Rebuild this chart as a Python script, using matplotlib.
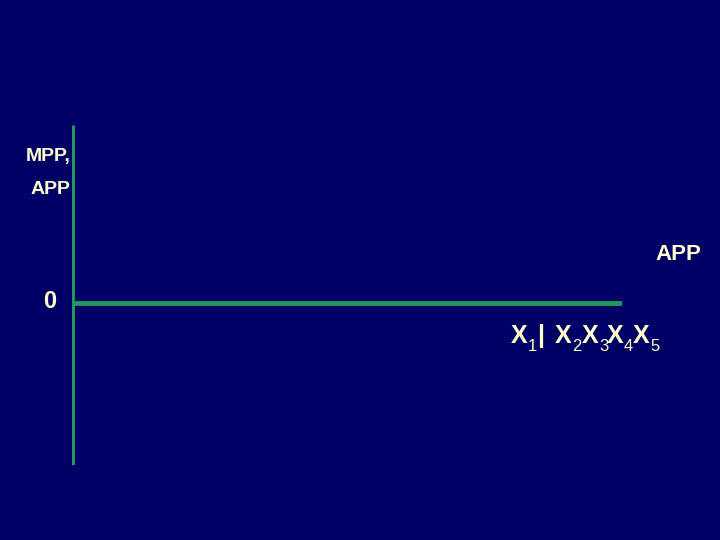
import matplotlib
matplotlib.use("Agg")
import matplotlib.pyplot as plt

# chart content
y_label_lines = ["MPP,", "APP"]
curve_label = "APP"
origin_label = "0"
x_names = ["X", "X", "X", "X", "X"]
x_subs = ["1", "2", "3", "4", "5"]

bg = "#000066"
green = "#1f9a5c"
txt = "#ffffcc"
font = "Liberation Sans"

fig = plt.figure(figsize=(7.2, 5.4), dpi=100)
fig.patch.set_facecolor(bg)

# overlay in pixel coordinates (origin top-left)
ov = fig.add_axes([0, 0, 1, 1])
ov.set_xlim(0, 720)
ov.set_ylim(540, 0)
ov.axis("off")
ov.patch.set_alpha(0)

# axes: vertical line from y=125 to 465, horizontal at y=303 from x=72 to 622
ax = fig.add_axes([72 / 720, 1 - 465 / 540, 550 / 720, 340 / 540])
ax.set_xlim(0, 1)
ax.set_ylim(-162 / 178, 1)
ax.axis("off")
ax.patch.set_alpha(0)
ax.axvline(0, color=green, lw=3.5, solid_capstyle="butt")
ax.axhline(0, color=green, lw=3.5, solid_capstyle="butt")

# y axis label
ov.text(71, 157, y_label_lines[0], color=txt, fontsize=14, family=font,
        fontweight="bold", ha="right", va="center")
ov.text(70, 190, y_label_lines[1], color=txt, fontsize=14, family=font,
        fontweight="bold", ha="right", va="center")
ov.text(50, 302, origin_label, color=txt, fontsize=17, family=font,
        fontweight="bold", ha="center", va="center")
ov.text(701, 254, curve_label, color=txt, fontsize=16, family=font,
        fontweight="bold", ha="right", va="center")

# x labels with subscripts
x_starts = [511, 555, 582, 607, 633]
for i, (name, sub) in enumerate(zip(x_names, x_subs)):
    x0 = x_starts[i]
    ov.text(x0, 343, name, color=txt, fontsize=18, family=font,
            fontweight="bold", ha="left", va="baseline")
    ov.text(x0 + 17, 351, sub, color=txt, fontsize=12, family=font,
            ha="left", va="baseline")
ov.text(541, 343, "|", color=txt, fontsize=18, family=font,
        fontweight="bold", ha="center", va="baseline")

fig.savefig("out.png", dpi=100, facecolor=bg)
